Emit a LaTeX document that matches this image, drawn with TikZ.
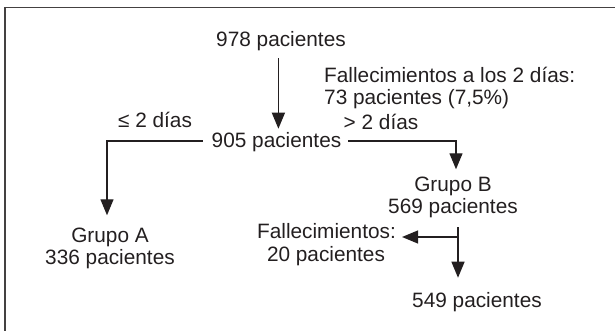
\documentclass[tikz,border=0pt]{standalone}
\usepackage{fontspec}
\setmainfont{Liberation Sans}
\usetikzlibrary{arrows.meta}
\definecolor{ink}{HTML}{231F20}
\begin{document}
\begin{tikzpicture}[x=1pt,y=-1pt,
  txt/.style={inner sep=0pt,anchor=base,text=ink,font=\fontsize{20.8}{22}\selectfont},
  ln/.style={draw=ink,line width=1.3pt},
  arr/.style={ln,-{Triangle[width=13pt,length=16pt]}}]
\useasboundingbox (0,0) rectangle (615,331);
% frame (left and top edges)
\draw[line width=1.8pt,draw=ink!85] (5,331) -- (5,7.5) -- (615,7.5);
% texts
\node[txt] (n978) at (281,47) {978 pacientes};
\node[txt,anchor=base west] (nF1a) at (324,83) {Fallecimientos a los 2 días:};
\node[txt,anchor=base west] (nF1b) at (324,105) {73 pacientes (7,5\%)};
\node[txt] (nLe) at (155,128) {≤ 2 días};
\node[txt] (nGt) at (381,130) {> 2 días};
\node[txt] (n905) at (276.5,148) {905 pacientes};
\node[txt] (nGB) at (453,191) {Grupo B};
\node[txt] (n569) at (453,213) {569 pacientes};
\node[txt] (nGA) at (110,242) {Grupo A};
\node[txt] (n336) at (110,264) {336 pacientes};
\node[txt] (nF2) at (326.5,238) {Fallecimientos:};
\node[txt] (n20) at (326,261) {20 pacientes};
\node[txt] (n549) at (477,307) {549 pacientes};
% helper coordinates
\coordinate (ax) at (278.4,0);
\coordinate (jL) at (107,141);
\coordinate (jR) at (456,141);
\coordinate (jB) at (458,0);
\coordinate (jBr) at (458,237);
% connectors
\draw[arr] ([yshift=-6.6pt]n978.south -| ax) -- ([yshift=4pt]n905.north -| ax);
\draw[arr] ([xshift=-9pt]n905.west |- jL) -| ([yshift=12pt]nGA.north -| jL);
\draw[arr] ([xshift=7pt]n905.east |- jR) -| ([yshift=7pt]nGB.north -| jR);
\draw[arr] ([yshift=-9.6pt]n569.south -| jB) -- ([yshift=14pt]n549.north -| jB);
\draw[arr] (jBr) -- ([xshift=6pt]nF2.east |- jBr);
\end{tikzpicture}
\end{document}
